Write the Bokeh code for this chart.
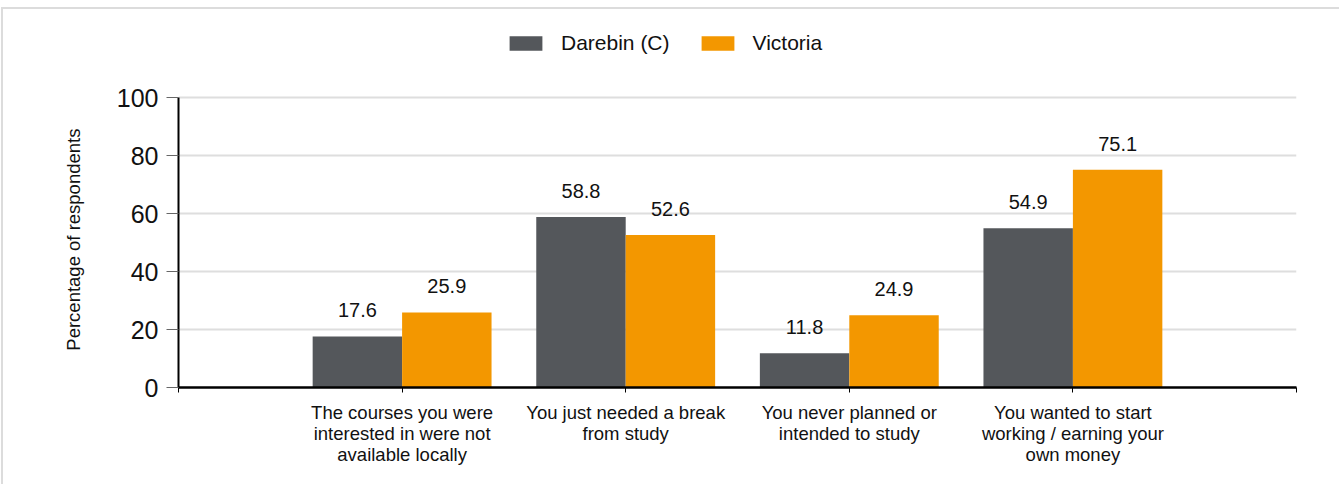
from bokeh.plotting import figure
from bokeh.models import ColumnDataSource, Range1d, FixedTicker, Legend, LegendItem
from bokeh.core.properties import value
from bokeh.embed import file_html
from bokeh.resources import INLINE

categories = [
    "The courses you were\ninterested in were not\navailable locally",
    "You just needed a break\nfrom study",
    "You never planned or\nintended to study",
    "You wanted to start\nworking / earning your\nown money",
]
series_names = ["Darebin (C)", "Victoria"]
darebin = [17.6, 58.8, 11.8, 54.9]
victoria = [25.9, 52.6, 24.9, 75.1]
y_ticks = [0, 20, 40, 60, 80, 100]
colors = ["#54575b", "#f39700"]
y_title = "Percentage of respondents"

FONT = "Liberation Sans"
pos = [i + 1 for i in range(len(categories))]

# layout (page pixels): canvas top at 9, frame top (value 100) at 97, frame bottom at 387
CANVAS_TOP, Y100, Y0 = 9, 97, 387
ymax = 100 * (Y0 - CANVAS_TOP) / (Y0 - Y100)

p = figure(width=1338, height=477, output_backend="svg", toolbar_location=None,
           x_range=Range1d(0, len(categories) + 1), y_range=Range1d(0, ymax),
           min_border_left=175, min_border_right=45, min_border_top=0, min_border_bottom=99)
p.outline_line_color = None
p.styles = {"border-top": "2px solid #dcdcdc", "border-left": "2px solid #dcdcdc",
            "margin-top": "7px", "margin-left": "1px"}

renderers = []
for k, (vals, off) in enumerate([(darebin, -0.2), (victoria, 0.2)]):
    src = ColumnDataSource(dict(x=[q + off for q in pos], y=vals, lbl=[f"{v:.1f}" for v in vals]))
    r = p.vbar(x="x", top="y", width=0.4, source=src, fill_color=colors[k], line_color=None)
    renderers.append(r)
    p.text(x="x", y="y", text="lbl", source=src, text_align="center", text_baseline="alphabetic",
           y_offset=-26, text_font=value(FONT), text_font_size="20px", text_color="#111111")

legend = Legend(items=[LegendItem(label=series_names[i], renderers=[renderers[i]]) for i in range(2)],
                orientation="horizontal", location=(327, 332), padding=0, margin=0,
                border_line_color=None, background_fill_alpha=0,
                glyph_width=41, glyph_height=18, label_standoff=15, spacing=27,
                label_text_font=FONT, label_text_font_size="21px", label_text_color="#111111")
p.add_layout(legend, "center")

# y axis
p.yaxis.ticker = FixedTicker(ticks=y_ticks)
p.yaxis.bounds = (0, 100)
p.yaxis.axis_line_color = "black"
p.yaxis.axis_line_width = 2
p.yaxis.major_tick_out = 12
p.yaxis.major_tick_in = 0
p.yaxis.major_tick_line_color = "#666666"
p.yaxis.minor_tick_line_color = None
p.yaxis.major_label_standoff = 8
p.yaxis.major_label_text_font = FONT
p.yaxis.major_label_text_font_size = "25px"
p.yaxis.major_label_text_color = "#111111"
# trailing no-break spaces centre the rotated title on the 0-100 axis span
p.yaxis.axis_label = y_title + "\u00a0" * 16
p.yaxis.axis_label_text_font = FONT
p.yaxis.axis_label_text_font_size = "18.5px"
p.yaxis.axis_label_text_font_style = "normal"
p.yaxis.axis_label_text_color = "#111111"
p.yaxis.axis_label_standoff = 30

# x axis
p.xaxis.ticker = FixedTicker(ticks=list(range(len(categories) + 2)))
overrides = {0: "", len(categories) + 1: ""}
for q, c in zip(pos, categories):
    overrides[q] = c
p.xaxis.major_label_overrides = overrides
p.xaxis.axis_line_color = "black"
p.xaxis.axis_line_width = 2.5
p.xaxis.major_tick_out = 5
p.xaxis.major_tick_in = 0
p.xaxis.major_tick_line_color = "black"
p.xaxis.minor_tick_line_color = None
p.xaxis.major_label_standoff = 9
p.xaxis.major_label_text_font = FONT
p.xaxis.major_label_text_font_size = "18.5px"
p.xaxis.major_label_text_line_height = 1.0
p.xaxis.major_label_text_color = "#111111"
p.xaxis.major_label_text_align = "center"

p.xgrid.grid_line_color = None
p.ygrid.ticker = FixedTicker(ticks=y_ticks)
p.ygrid.grid_line_color = "#dedede"
p.ygrid.grid_line_width = 2

open("out.html", "w").write(file_html(p, INLINE))
